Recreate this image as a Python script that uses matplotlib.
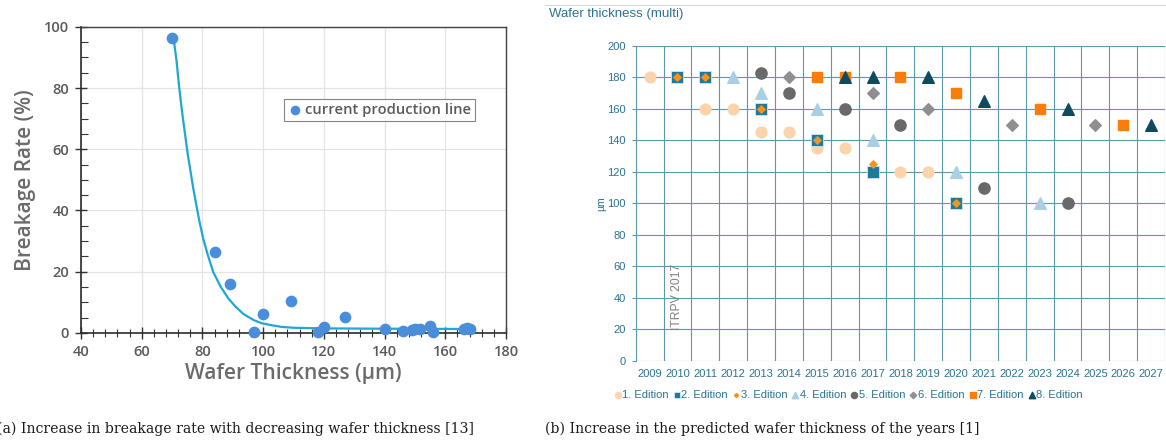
import numpy as np
import matplotlib.pyplot as plt
from matplotlib.ticker import MultipleLocator

# --- (a) breakage rate vs wafer thickness ---
thickness = [70, 84, 89, 97, 100, 109, 118, 120, 127, 140, 146, 149, 150, 151.5,
             155, 156, 166, 167, 168]
breakage = [96.2, 26.6, 15.9, 0.3, 6.2, 10.6, 0.3, 2.1, 5.2, 1.3, 0.5, 1.1, 1.2, 1.4,
            2.3, 0.4, 1.3, 1.6, 1.3]
fit_x = [70.5, 71.5, 72.3, 73.5, 75.1, 77.0, 78.9, 80.2, 81.6, 83.5, 86.0, 88.5, 90.9,
         93.5, 96.9, 99.5, 102.4, 106.0, 110.0, 120.0, 140.0, 168.0]
fit_y = [96.2, 88.5, 80.4, 70.5, 58.7, 47.0, 36.9, 31.0, 26.0, 20.0, 15.1, 11.3, 8.6,
         6.2, 4.2, 3.2, 2.6, 2.0, 1.7, 1.5, 1.4, 1.3]

# --- (b) predicted wafer thickness per ITRPV edition ---
years = list(range(2009, 2028))
ed1_x = [2009, 2011, 2012, 2013, 2014, 2015, 2016, 2018, 2019]
ed1_y = [180, 160, 160, 145, 145, 135, 135, 120, 120]
ed2_x = [2010, 2011, 2013, 2015, 2017, 2020]
ed2_y = [180, 180, 160, 140, 120, 100]
ed3_x = [2010, 2011, 2013, 2015, 2017, 2020]
ed3_y = [180, 180, 160, 140, 125, 100]
ed4_x = [2012, 2013, 2015, 2017, 2020, 2023]
ed4_y = [180, 170, 160, 140, 120, 100]
ed5_x = [2013, 2014, 2016, 2018, 2021, 2024]
ed5_y = [183, 170, 160, 150, 110, 100]
ed6_x = [2014, 2017, 2019, 2022, 2025]
ed6_y = [180, 170, 160, 150, 150]
ed7_x = [2015, 2016, 2018, 2020, 2023, 2026]
ed7_y = [180, 180, 180, 170, 160, 150]
ed8_x = [2016, 2017, 2019, 2021, 2024, 2027]
ed8_y = [180, 180, 180, 165, 160, 150]

fig = plt.figure(figsize=(11.66, 4.4), dpi=100)

# ---------------- left panel ----------------
ax1 = fig.add_axes([0.0695, 0.2432, 0.3645, 0.696])
sans = ['Open Sans', 'DejaVu Sans']
grey_txt = '#5a5a5a'

ax1.plot(fit_x, fit_y, color='#1fa8d2', lw=1.6, zorder=3)
ax1.scatter(thickness, breakage, s=55, color='#4a8edb', zorder=4,
            label='current production line', clip_on=False)

ax1.set_xlim(40, 180)
ax1.set_ylim(0, 100)
ax1.xaxis.set_major_locator(MultipleLocator(20))
ax1.xaxis.set_minor_locator(MultipleLocator(4))
ax1.yaxis.set_major_locator(MultipleLocator(20))
ax1.yaxis.set_minor_locator(MultipleLocator(5))
ax1.grid(True, which='major', color='#e4e4e4', lw=0.9)
ax1.set_axisbelow(True)
ax1.tick_params(axis='x', which='major', direction='inout', length=9, width=1,
                color='#333333', labelsize=10.5, labelcolor=grey_txt, pad=4)
ax1.tick_params(axis='x', which='minor', direction='inout', length=6, width=0.8,
                color='#333333')
ax1.tick_params(axis='y', which='major', direction='inout', length=9, width=1,
                color='#333333', labelsize=10.5, labelcolor=grey_txt, pad=4)
ax1.tick_params(axis='y', which='minor', direction='in', length=5, width=0.8,
                color='#333333')
for lab in ax1.get_xticklabels() + ax1.get_yticklabels():
    lab.set_family(sans)
    lab.set_fontweight('semibold')
for side in ['left', 'bottom']:
    ax1.spines[side].set_color('#2b2b2b')
    ax1.spines[side].set_linewidth(1.2)
for side in ['top', 'right']:
    ax1.spines[side].set_color('#444444')
    ax1.spines[side].set_linewidth(1.0)

ax1.set_xlabel('Wafer Thickness (µm)', fontsize=15, color='#6b6b6b',
               family=sans, fontweight='semibold', labelpad=3)
ax1.set_ylabel('Breakage Rate (%)', fontsize=15, color='#6b6b6b',
               family=sans, fontweight='semibold', labelpad=6)
leg1 = ax1.legend(loc='upper left', bbox_to_anchor=(0.46, 0.787), frameon=True,
                  fancybox=False, edgecolor='#666666', handletextpad=0.2,
                  borderpad=0.25, handlelength=1.0, markerscale=0.8,
                  prop={'family': sans, 'size': 10.6, 'weight': 'semibold'})
leg1.get_frame().set_linewidth(0.8)
for t in leg1.get_texts():
    t.set_color(grey_txt)

# ---------------- right panel ----------------
ax2 = fig.add_axes([0.5452, 0.1795, 0.454, 0.7166])
teal = '#2a7390'
grid_c = '#5d99aa'
arial = ['Liberation Sans', 'DejaVu Sans']

editions = [
    (ed1_x, ed1_y, dict(marker='o', s=60, color='#fdd3ab', zorder=3), '1. Edition'),
    (ed2_x, ed2_y, dict(marker='s', s=75, color='#1d7a9c', edgecolors='#cfe6ee',
                        linewidths=0.6, zorder=4), '2. Edition'),
    (ed3_x, ed3_y, dict(marker='D', s=14, color='#f39321', zorder=5), '3. Edition'),
    (ed4_x, ed4_y, dict(marker='^', s=70, color='#a8cfe2', zorder=3), '4. Edition'),
    (ed5_x, ed5_y, dict(marker='o', s=65, color='#696969', zorder=3), '5. Edition'),
    (ed6_x, ed6_y, dict(marker='D', s=35, color='#8f8f8f', zorder=3), '6. Edition'),
    (ed7_x, ed7_y, dict(marker='s', s=62, color='#fb7d09', zorder=3), '7. Edition'),
    (ed8_x, ed8_y, dict(marker='^', s=70, color='#0e4a60', zorder=4), '8. Edition'),
]
for xs, ys, kw, name in editions:
    ax2.scatter(xs, ys, label=name, **kw)

ax2.set_xlim(years[0] - 0.5, years[-1] + 0.5)
ax2.set_ylim(0, 200)
ax2.set_xticks(years)
ax2.set_xticks([y + 0.5 for y in [years[0] - 1] + years], minor=True)
ax2.yaxis.set_major_locator(MultipleLocator(20))
ax2.grid(True, which='minor', axis='x', color=grid_c, lw=0.8)
ax2.grid(True, which='major', axis='y', color=grid_c, lw=0.8)
ax2.set_axisbelow(True)
ax2.tick_params(axis='x', which='both', length=0, labelsize=8, labelcolor=teal, pad=6)
ax2.tick_params(axis='y', length=3, color=grid_c, labelsize=8, labelcolor=teal, pad=4)
for lab in ax2.get_xticklabels() + ax2.get_yticklabels():
    lab.set_family(arial)
for side in ax2.spines:
    ax2.spines[side].set_visible(False)
ax2.spines['left'].set_visible(True)
ax2.spines['left'].set_color(grid_c)
ax2.spines['left'].set_linewidth(0.8)

ax2.set_ylabel('µm', fontsize=7.5, color=teal, family=arial, labelpad=1)
ax2.text(2010, 41, 'ITRPV 2017', rotation=90, ha='center', va='center',
         fontsize=8.8, color='#808080', family=arial)

leg2 = ax2.legend(loc='upper left', bbox_to_anchor=(-0.039, -0.092), ncol=8,
                  frameon=False, handletextpad=0.15, columnspacing=0.48,
                  handlelength=0.5, markerscale=0.55, borderpad=0,
                  borderaxespad=0, prop={'family': arial, 'size': 8})
for t in leg2.get_texts():
    t.set_color(teal)

fig.text(549 / 1166, 1 - 14 / 440, 'Wafer thickness (multi)', fontsize=9.5,
         color=teal, family=arial, va='center', ha='left')
fig.add_artist(plt.Line2D([545 / 1166, 1.0], [1 - 5 / 440, 1 - 5 / 440],
                          color='#d9d9d9', lw=0.8))

# captions
serif = ['DejaVu Serif']
fig.text(-3 / 1166, 1 - 429 / 440, '(a) Increase in breakage rate with decreasing wafer thickness [13]',
         fontsize=10.1, family=serif, va='center', ha='left', color='#1a1a1a')
fig.text(545 / 1166, 1 - 429 / 440, '(b) Increase in the predicted wafer thickness of the years [1]',
         fontsize=10.1, family=serif, va='center', ha='left', color='#1a1a1a')

fig.savefig('out.png', dpi=100)
